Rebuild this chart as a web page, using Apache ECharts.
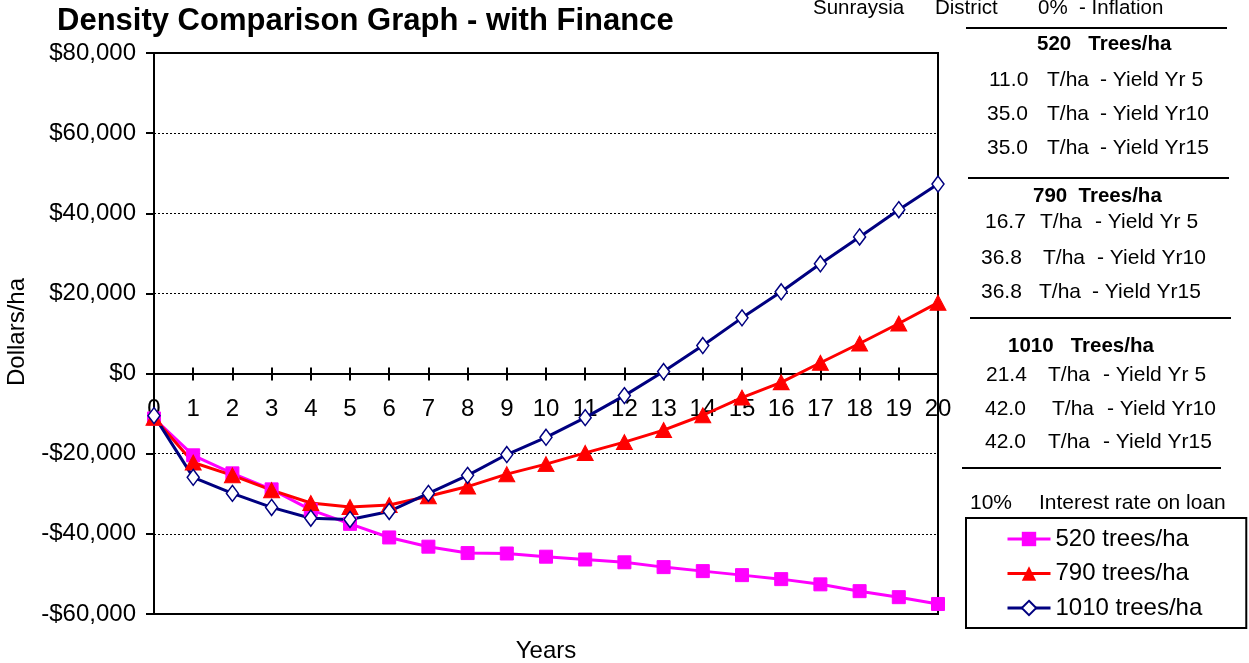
<!DOCTYPE html>
<html>
<head>
<meta charset="utf-8">
<script src="https://cdn.jsdelivr.net/npm/echarts@6/dist/echarts.min.js"></script>
<style>
html,body{margin:0;padding:0;background:#fff;}
#c{width:1249px;height:663px;}
</style>
</head>
<body>
<div id="c"></div>
<script>
const years = [0,1,2,3,4,5,6,7,8,9,10,11,12,13,14,15,16,17,18,19,20];
const trees520 = [-11200,-20400,-24900,-28900,-34000,-37500,-40900,-43200,-44800,-44900,-45700,-46400,-47100,-48300,-49300,-50300,-51300,-52600,-54300,-55800,-57500];
const trees790 = [-11000,-22200,-25400,-29100,-32300,-33300,-32800,-30600,-28200,-25100,-22600,-19800,-17100,-14100,-10400,-6000,-2200,2700,7500,12500,17700];
const trees1010 = [-10500,-25900,-29900,-33400,-36100,-36400,-34400,-29900,-25400,-20200,-15900,-11000,-5500,500,7000,13900,20400,27400,34100,40900,47300];
const yMin = -60000, yMax = 80000, yStep = 20000;
const seriesNames = ['520 trees/ha','790 trees/ha','1010 trees/ha'];

const FONT = 'Liberation Sans, Arial, sans-serif';
const chart = echarts.init(document.getElementById('c'));

function fmt(v){
  const a = Math.abs(v).toLocaleString('en-US');
  return (v < 0 ? '-$' : '$') + a;
}
function pair(arr){ return years.map((y,i)=>[y,arr[i]]); }

const REG = '21px ' + FONT;
function txt(x,y,s,font){
  return {type:'text', x:x, y:y, style:{text:s, fill:'#000', font:font||REG, textVerticalAlign:'middle', textAlign:'left'}};
}
function hline(x1,x2,y){
  return {type:'line', shape:{x1:x1,y1:y,x2:x2,y2:y}, style:{stroke:'#000', lineWidth:2}};
}
const boldFont = 'bold 20.5px ' + FONT;
const topFont = '20.5px ' + FONT;

const graphics = [
  {type:'text', x:57, y:21, style:{text:'Density Comparison Graph - with Finance', fill:'#000', font:'bold 31px '+FONT, textVerticalAlign:'middle'}},
  txt(813,8,'Sunraysia',topFont),
  txt(935,8,'District',topFont),
  txt(1038,8,'0%  - Inflation',topFont),
  hline(966,1227,28),
  txt(1037,44,'520   Trees/ha',boldFont),
  txt(989,80,'11.0'), txt(1047,80,'T/ha'), txt(1100,80,'- Yield Yr 5'),
  txt(987,114,'35.0'), txt(1047,114,'T/ha'), txt(1100,114,'- Yield Yr10'),
  txt(987,148,'35.0'), txt(1047,148,'T/ha'), txt(1100,148,'- Yield Yr15'),
  hline(968,1229,178),
  txt(1033,196,'790  Trees/ha',boldFont),
  txt(985,222,'16.7'), txt(1040,222,'T/ha'), txt(1095,222,'- Yield Yr 5'),
  txt(981,258,'36.8'), txt(1043,258,'T/ha'), txt(1097,258,'- Yield Yr10'),
  txt(981,292,'36.8'), txt(1039,292,'T/ha'), txt(1092,292,'- Yield Yr15'),
  hline(970,1231,318),
  txt(1008,346,'1010   Trees/ha',boldFont),
  txt(986,375,'21.4'), txt(1048,375,'T/ha'), txt(1103,375,'- Yield Yr 5'),
  txt(985,409,'42.0'), txt(1052,409,'T/ha'), txt(1107,409,'- Yield Yr10'),
  txt(985,442,'42.0'), txt(1048,442,'T/ha'), txt(1103,442,'- Yield Yr15'),
  hline(962,1221,468),
  txt(970,503,'10%'), txt(1039,503,'Interest rate on loan'),
  {type:'text', x:17, y:332, rotation:Math.PI/2, style:{text:'Dollars/ha', fill:'#000', font:'24px '+FONT, textAlign:'center', textVerticalAlign:'middle'}},
  {type:'text', x:546, y:651, style:{text:'Years', fill:'#000', font:'24px '+FONT, textAlign:'center', textVerticalAlign:'middle'}}
];

const zeroY = 53 + 561 * (yMax / (yMax - yMin));   // pixel of $0 inside the main grid
const xBase = {type:'value', min:0, max:20, interval:1, splitLine:{show:false}};
const hiddenY = {type:'value', min:0, max:1, show:false};

const option = {
  animation:false,
  backgroundColor:'#fff',
  grid:[
    {left:154, right:311, top:53, bottom:49, show:true, borderColor:'#000', borderWidth:2, backgroundColor:'transparent'},
    {left:154, right:311, top:53, bottom:663 - zeroY, show:false},
    {left:154, right:311, top:zeroY, bottom:49, show:false}
  ],
  xAxis:[
    Object.assign({}, xBase, {gridIndex:0, axisLine:{show:false}, axisTick:{show:false}, axisLabel:{show:false}}),
    Object.assign({}, xBase, {gridIndex:1, position:'bottom',
      axisLine:{show:true, onZero:false, lineStyle:{color:'#000', width:2}},
      axisTick:{show:true, length:7, lineStyle:{color:'#000', width:2}},
      axisLabel:{show:true, margin:24, color:'#000', fontSize:24, fontFamily:FONT}}),
    Object.assign({}, xBase, {gridIndex:2, position:'top',
      axisLine:{show:true, onZero:false, lineStyle:{color:'#000', width:2}},
      axisTick:{show:true, length:6, lineStyle:{color:'#000', width:2}},
      axisLabel:{show:false}})
  ],
  yAxis:[
    {gridIndex:0, type:'value', min:yMin, max:yMax, interval:yStep,
      axisLine:{show:true, onZero:false, lineStyle:{color:'#000', width:2}},
      axisTick:{show:true, length:8, lineStyle:{color:'#000', width:2}},
      axisLabel:{margin:18, color:'#000', fontSize:24, fontFamily:FONT, formatter:fmt},
      splitLine:{show:true, lineStyle:{color:'#000', width:1, type:[2,2]}}},
    Object.assign({gridIndex:1}, hiddenY),
    Object.assign({gridIndex:2}, hiddenY)
  ],
  legend:{
    orient:'vertical', left:966, top:518,
    data:seriesNames.map(n => ({name:n, lineStyle:{width:3}})),
    backgroundColor:'#fff',
    borderColor:'#000', borderWidth:2, borderRadius:0,
    padding:[9,44,8,40],
    itemWidth:43, itemHeight:18, itemGap:10.5,
    lineStyle:{width:3},
    textStyle:{color:'#000', fontSize:24, fontFamily:FONT, lineHeight:24}
  },
  graphic:graphics,
  series:[
    {name:seriesNames[0], type:'line', xAxisIndex:0, yAxisIndex:0, data:pair(trees520), symbol:'rect', symbolSize:13,
      lineStyle:{color:'#FF00FF', width:3}, itemStyle:{color:'#FF00FF', borderColor:'#FF00FF'}},
    {name:seriesNames[1], type:'line', xAxisIndex:0, yAxisIndex:0, data:pair(trees790), symbol:'triangle', symbolSize:[16,15],
      lineStyle:{color:'#FF0000', width:3}, itemStyle:{color:'#FF0000', borderColor:'#FF0000'}},
    {name:seriesNames[2], type:'line', xAxisIndex:0, yAxisIndex:0, data:pair(trees1010), symbol:'diamond', symbolSize:[12,16],
      lineStyle:{color:'#000080', width:3}, itemStyle:{color:'#fff', borderColor:'#000080', borderWidth:1.5}}
  ]
};
chart.setOption(option);
</script>
</body>
</html>
